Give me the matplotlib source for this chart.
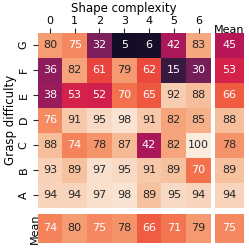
import numpy as np
import matplotlib
matplotlib.use("Agg")
import matplotlib.pyplot as plt
import seaborn as sns

# %% Data

shape_labels = ["0", "1", "2", "3", "4", "5", "6"]
grasp_labels = ["G", "F", "E", "D", "C", "B", "A"]

success = [
    [80, 75, 32, 5, 6, 42, 83],
    [36, 82, 61, 79, 62, 15, 30],
    [38, 53, 52, 70, 65, 92, 88],
    [76, 91, 95, 98, 91, 82, 85],
    [88, 74, 78, 87, 42, 82, 100],
    [93, 89, 97, 95, 91, 89, 70],
    [94, 94, 97, 98, 89, 95, 94],
]
row_mean = [45, 53, 66, 88, 78, 89, 94]
col_mean = [74, 80, 75, 78, 66, 71, 79]
total_mean = 75


# %% Plot

W = H = 249.0


def box(x0, y0, x1, y1):
    # pixel box (top-left origin) -> figure fraction
    return [x0 / W, 1 - y1 / H, (x1 - x0) / W, (y1 - y0) / H]


fig = plt.figure(figsize=(2.49, 2.49), dpi=100)
ax_main = fig.add_axes(box(37.5, 32.5, 211, 207.5))
ax_col = fig.add_axes(box(215, 32.5, 244, 207.5))
ax_row = fig.add_axes(box(37.5, 214, 211, 242.5))
ax_tot = fig.add_axes(box(215, 214, 244, 242.5))

kw = dict(cmap="rocket", vmin=0, vmax=100, annot=True, fmt="d", cbar=False,
          annot_kws={"fontsize": 8})

sns.heatmap(np.array(success), ax=ax_main, xticklabels=shape_labels,
            yticklabels=grasp_labels, **kw)
sns.heatmap(np.array(row_mean)[:, None], ax=ax_col, xticklabels=["Mean"],
            yticklabels=False, **kw)
sns.heatmap(np.array(col_mean)[None, :], ax=ax_row, xticklabels=False,
            yticklabels=["Mean"], **kw)
sns.heatmap(np.array([[total_mean]]), ax=ax_tot, xticklabels=False,
            yticklabels=False, **kw)

ax_main.xaxis.tick_top()
ax_main.xaxis.set_label_position("top")
ax_main.set_xlabel("Shape complexity", fontsize=8.5, labelpad=3)
ax_main.set_ylabel("Grasp difficulty", fontsize=8.5, labelpad=1)
ax_main.tick_params(axis="x", labelsize=8, length=3.5, width=0.8, pad=1,
                    color="0.15")
ax_main.tick_params(axis="y", labelsize=8, length=3.5, width=0.8, pad=3,
                    color="0.15")
ax_main.set_yticklabels(grasp_labels, rotation=90, va="center")
ax_main.set_xticklabels(shape_labels, rotation=0)

ax_col.xaxis.tick_top()
ax_col.tick_params(labelsize=8, length=0, pad=-2)
ax_col.set_xticklabels(["Mean"], rotation=0)

ax_row.tick_params(labelsize=8, length=0, pad=-2)
ax_row.set_yticklabels(["Mean"], rotation=90, va="center")

fig.savefig("out.png", dpi=100)
